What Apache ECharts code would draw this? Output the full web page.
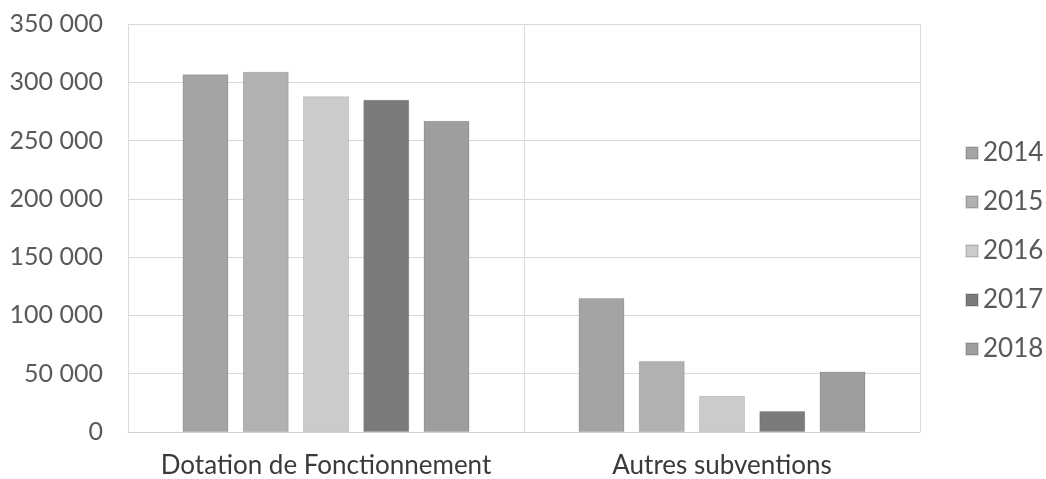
<!DOCTYPE html>
<html>
<head>
<meta charset="utf-8">
<script src="https://cdn.jsdelivr.net/npm/echarts@6/dist/echarts.min.js"></script>
<style>
  html, body { margin: 0; padding: 0; background: #fff; }
  #chart { width: 1046px; height: 479px; }
</style>
</head>
<body>
<div id="chart"></div>
<script>
// Categories and yearly values (euros)
const categories = ['Dotation de Fonctionnement', 'Autres subventions'];
const years = ['2014', '2015', '2016', '2017', '2018'];
const values2014 = [307000, 115000];
const values2015 = [309000, 61000];
const values2016 = [288000, 31000];
const values2017 = [285000, 18000];
const values2018 = [267000, 52000];
const yearColors = ['#a4a4a4', '#b1b1b1', '#cbcbcb', '#7b7b7b', '#9e9e9e'];
const yTicks = [0, 50000, 100000, 150000, 200000, 250000, 300000, 350000];

const seriesValues = [values2014, values2015, values2016, values2017, values2018];
const font = 'Lato, "Open Sans", sans-serif';

const chart = echarts.init(document.getElementById('chart'), null, { renderer: 'canvas' });

chart.setOption({
  backgroundColor: '#ffffff',
  animation: false,
  grid: { left: 128, right: 126, top: 24, bottom: 47, containLabel: false },
  legend: {
    orient: 'vertical',
    left: 960,
    top: 135,
    itemWidth: 12,
    itemHeight: 12,
    itemGap: 23,
    itemTextGap: 9,
    icon: 'rect',
    textStyle: { fontFamily: font, fontSize: 26, color: '#595959' },
    data: years
  },
  xAxis: {
    type: 'category',
    data: categories,
    axisLine: { lineStyle: { color: '#d0d0d0', width: 1 } },
    axisTick: { show: false },
    splitLine: { show: true, interval: 0, lineStyle: { color: '#dcdcdc', width: 1 } },
    axisLabel: { interval: 0, fontFamily: font, fontSize: 26, color: '#3a3a3a', margin: 21 }
  },
  yAxis: {
    type: 'value',
    min: yTicks[0],
    max: yTicks[yTicks.length - 1],
    interval: 50000,
    axisLine: { show: false },
    axisTick: { show: false },
    splitLine: { lineStyle: { color: '#d9d9d9', width: 1 } },
    axisLabel: {
      fontFamily: font, fontSize: 25, color: '#595959', margin: 25,
      formatter: v => String(v).replace(/\B(?=(\d{3})+(?!\d))/g, ' ')
    }
  },
  series: years.map((y, i) => ({
    name: y,
    type: 'bar',
    data: seriesValues[i],
    barWidth: 46,
    barGap: '31%',
    itemStyle: { color: yearColors[i], borderColor: 'rgba(0,0,0,0.12)', borderWidth: 1 }
  }))
});
</script>
</body>
</html>
